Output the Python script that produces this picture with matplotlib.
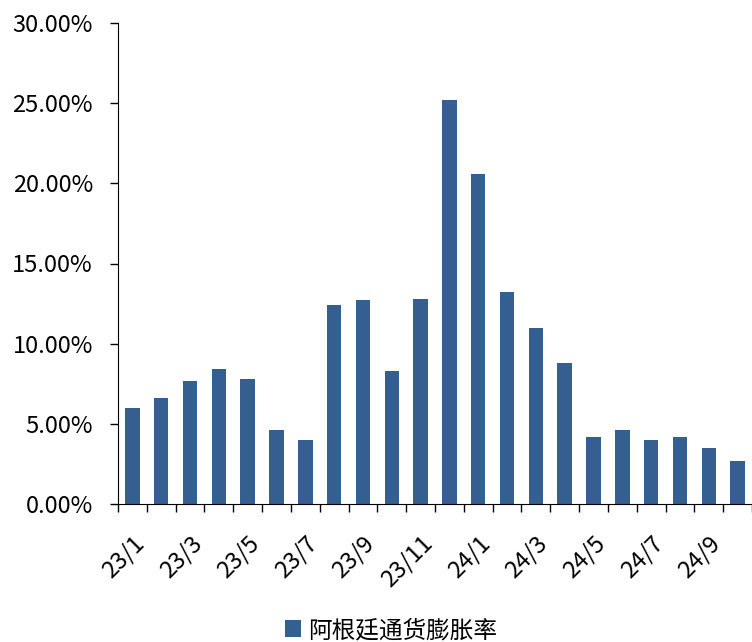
import matplotlib

matplotlib.use("Agg")
import matplotlib.pyplot as plt
import numpy as np
from matplotlib.ticker import FuncFormatter, FixedLocator

plt.rcParams["font.family"] = ["Noto Sans CJK SC", "DejaVu Sans"]

months = ["23/1", "23/2", "23/3", "23/4", "23/5", "23/6", "23/7", "23/8", "23/9",
          "23/10", "23/11", "23/12", "24/1", "24/2", "24/3", "24/4", "24/5", "24/6",
          "24/7", "24/8", "24/9", "24/10"]
inflation = [6.0, 6.6, 7.7, 8.4, 7.8, 4.6, 4.0, 12.4, 12.7, 8.3, 12.8, 25.2,
             20.6, 13.2, 11.0, 8.8, 4.2, 4.6, 4.0, 4.2, 3.5, 2.7]
series_name = "阿根廷通货膨胀率"

x = np.arange(len(months))

fig = plt.figure(figsize=(7.52, 6.42), dpi=100)
ax = fig.add_axes([118 / 752, 1 - 504 / 642, (752 - 118) / 752, (504 - 23) / 642])
ax.bar(x, inflation, width=0.5, color="#365F91", label=series_name)

ax.set_xlim(-0.5, len(months) - 0.5)
ax.set_ylim(0, 30)
ax.set_yticks(np.arange(0, 31, 5))
ax.yaxis.set_major_formatter(FuncFormatter(lambda v, _: f"{v:.2f}%"))

# ticks on category boundaries, labels on every other category
ax.xaxis.set_major_locator(FixedLocator(np.arange(-0.5, len(months), 1.0)))
ax.xaxis.set_major_formatter(FuncFormatter(lambda v, _: ""))
ax.xaxis.set_minor_locator(FixedLocator(x[::2]))
ax.set_xticklabels([months[i] for i in x[::2]], minor=True, rotation=45,
                   ha="right", rotation_mode="anchor", fontsize=17)
ax.tick_params(axis="x", which="major", direction="out", length=6, width=1, color="black")
ax.tick_params(axis="x", which="minor", length=0, pad=20)
ax.tick_params(axis="y", direction="out", length=6, width=1, labelsize=17, pad=12)

for s in ["top", "right"]:
    ax.spines[s].set_visible(False)
ax.spines["left"].set_color("black")
ax.spines["bottom"].set_color("black")

fig.legend(loc="center", bbox_to_anchor=(0.52, 0.018), frameon=False, fontsize=17,
           handlelength=0.7, handleheight=0.7, handletextpad=0.3)

fig.savefig("out.png", dpi=100)
